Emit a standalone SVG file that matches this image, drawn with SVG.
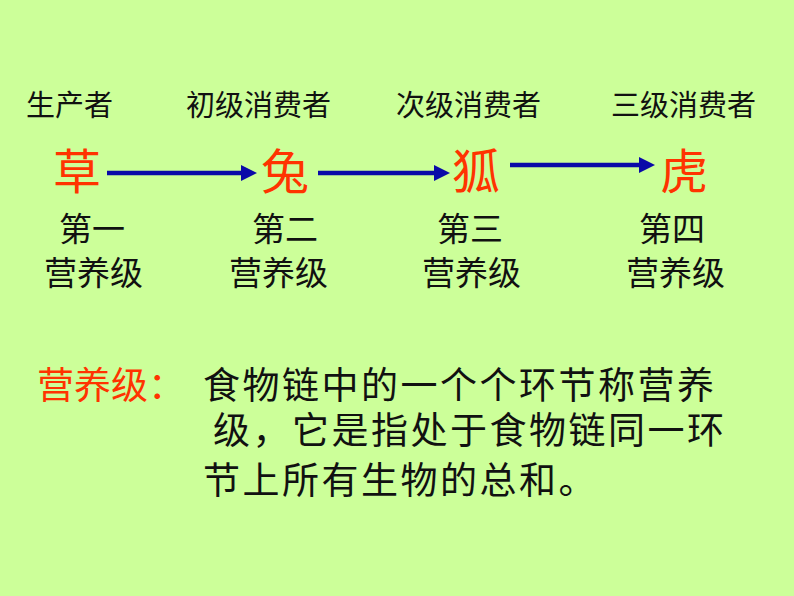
<svg xmlns="http://www.w3.org/2000/svg" width="794" height="596" viewBox="0 0 794 596">
<style>
text{font-family:"Noto Sans CJK SC","Noto Sans",sans-serif;}
.role{font-size:29px;fill:#111;}
.org{font-size:48px;fill:#FF3300;}
.lvl{font-size:33px;fill:#111;}
.def{font-size:37px;fill:#111;letter-spacing:2.5px;}
.defk{font-size:37px;fill:#FF3300;}
.arr{stroke:#0A0AA8;stroke-width:4.5;fill:none;marker-end:url(#ah);}
</style>
<defs>
<marker id="ah" markerUnits="userSpaceOnUse" markerWidth="18" markerHeight="18" refX="2" refY="8" orient="auto" viewBox="0 0 18 18">
<path d="M0,0 L16,8 L0,16 z" fill="#0A0AA8"/>
</marker>
</defs>
<rect x="0" y="0" width="794" height="596" fill="#CCFF99"/>
<g id="connectors">
<line class="arr" x1="107" y1="173" x2="243" y2="173"/>
<line class="arr" x1="318" y1="173" x2="436" y2="173"/>
<line class="arr" x1="510" y1="165" x2="641" y2="165"/>
</g>
<g id="node-grass">
<text class="role" x="26" y="116">生产者</text>
<text class="org" x="53" y="189">草</text>
<text class="lvl" x="59" y="241">第一</text>
<text class="lvl" x="44" y="285">营养级</text>
</g>
<g id="node-rabbit">
<text class="role" x="186" y="116">初级消费者</text>
<text class="org" x="261" y="189">兔</text>
<text class="lvl" x="252" y="241">第二</text>
<text class="lvl" x="229" y="285">营养级</text>
</g>
<g id="node-fox">
<text class="role" x="396" y="116">次级消费者</text>
<text class="org" x="452" y="189">狐</text>
<text class="lvl" x="437" y="241">第三</text>
<text class="lvl" x="422" y="285">营养级</text>
</g>
<g id="node-tiger">
<text class="role" x="611" y="116">三级消费者</text>
<text class="org" x="660" y="189">虎</text>
<text class="lvl" x="639" y="241">第四</text>
<text class="lvl" x="626" y="285">营养级</text>
</g>
<g id="definition">
<text class="defk" x="37" y="399">营养级：</text>
<text class="def" x="203" y="399">食物链中的一个个环节称营养</text>
<text class="def" x="213" y="444">级，它是指处于食物链同一环</text>
<text class="def" x="203" y="494">节上所有生物的总和。</text>
</g>
</svg>
